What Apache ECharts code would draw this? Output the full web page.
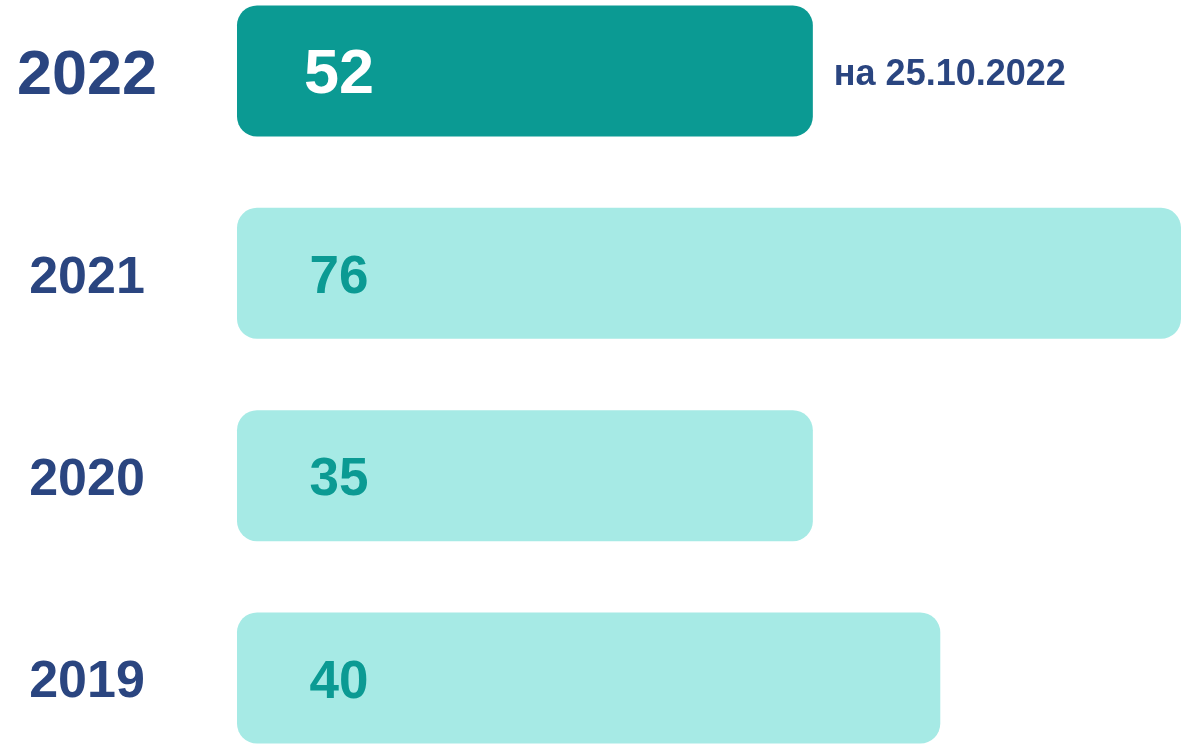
<!DOCTYPE html>
<html>
<head>
<meta charset="utf-8">
<title>chart</title>
<script src="https://cdn.jsdelivr.net/npm/echarts@6/dist/echarts.min.js"></script>
<style>
	html, body { margin: 0; padding: 0; background: #fff; }
	#main { width: 1184px; height: 750px; }
</style>
</head>
<body>
<div id="main"></div>
<script>
var years = ['2022', '2021', '2020', '2019'];
var values = [52, 76, 35, 40];
// длина полос на картинке (в % от самой длинной), не пропорциональна значениям
var barLength = [61, 100, 61, 74.5];
var note = 'на 25.10.2022';

var darkBlue = '#2a4580';
var teal = '#0b9a93';
var lightTeal = '#a6eae5';
var font = 'Liberation Sans, Arial, sans-serif';

var myChart = echarts.init(document.getElementById('main'));

var barData = [];
for (var i = 0; i < barLength.length; i++) {
	barData.push({
		value: barLength[i],
		itemStyle: { color: i === 0 ? teal : lightTeal },
		label: i === 0 ? { color: '#fff', fontSize: 63 } : { color: teal, fontSize: 53 }
	});
}

var option = {
	animation: false,
	// центры категорий на краях сетки (boundaryGap: false)
	grid: { left: 237, right: 3, top: 71, bottom: 72 },
	xAxis: {
		type: 'value',
		min: 0,
		max: 100,
		show: false
	},
	yAxis: {
		type: 'category',
		inverse: true,
		boundaryGap: false,
		data: years,
		axisLine: { show: false },
		axisTick: { show: false },
		splitLine: { show: false },
		axisLabel: {
			align: 'center',
			margin: 150,
			formatter: function (v, idx) {
				return idx === 0 ? '{big|' + v + '}' : '{norm|' + v + '}';
			},
			rich: {
				big: { fontSize: 63, fontWeight: 'bold', color: darkBlue, fontFamily: font, padding: [12, 0, 0, 0] },
				norm: { fontSize: 52, fontWeight: 'bold', color: darkBlue, fontFamily: font, padding: [10, 0, 0, 0] }
			}
		}
	},
	series: [
		{
			type: 'bar',
			barWidth: 131,
			clip: false,
			data: barData,
			itemStyle: { borderRadius: 20 },
			label: {
				show: true,
				position: [102, '50%'],
				offset: [0, 5],
				align: 'center',
				verticalAlign: 'middle',
				fontWeight: 'bold',
				fontFamily: font,
				formatter: function (p) {
					return values[p.dataIndex];
				}
			}
		},
		{
			type: 'bar',
			barWidth: 131,
			barGap: '-100%',
			clip: false,
			silent: true,
			data: [barLength[0], '-', '-', '-'],
			itemStyle: { color: 'rgba(0,0,0,0)' },
			label: {
				show: true,
				position: 'right',
				distance: 21,
				offset: [0, 4],
				color: darkBlue,
				fontSize: 36,
				fontWeight: 'bold',
				fontFamily: font,
				formatter: note
			}
		}
	]
};

myChart.setOption(option);

window.addEventListener('resize', function () {
	myChart.resize();
});
</script>
</body>
</html>
